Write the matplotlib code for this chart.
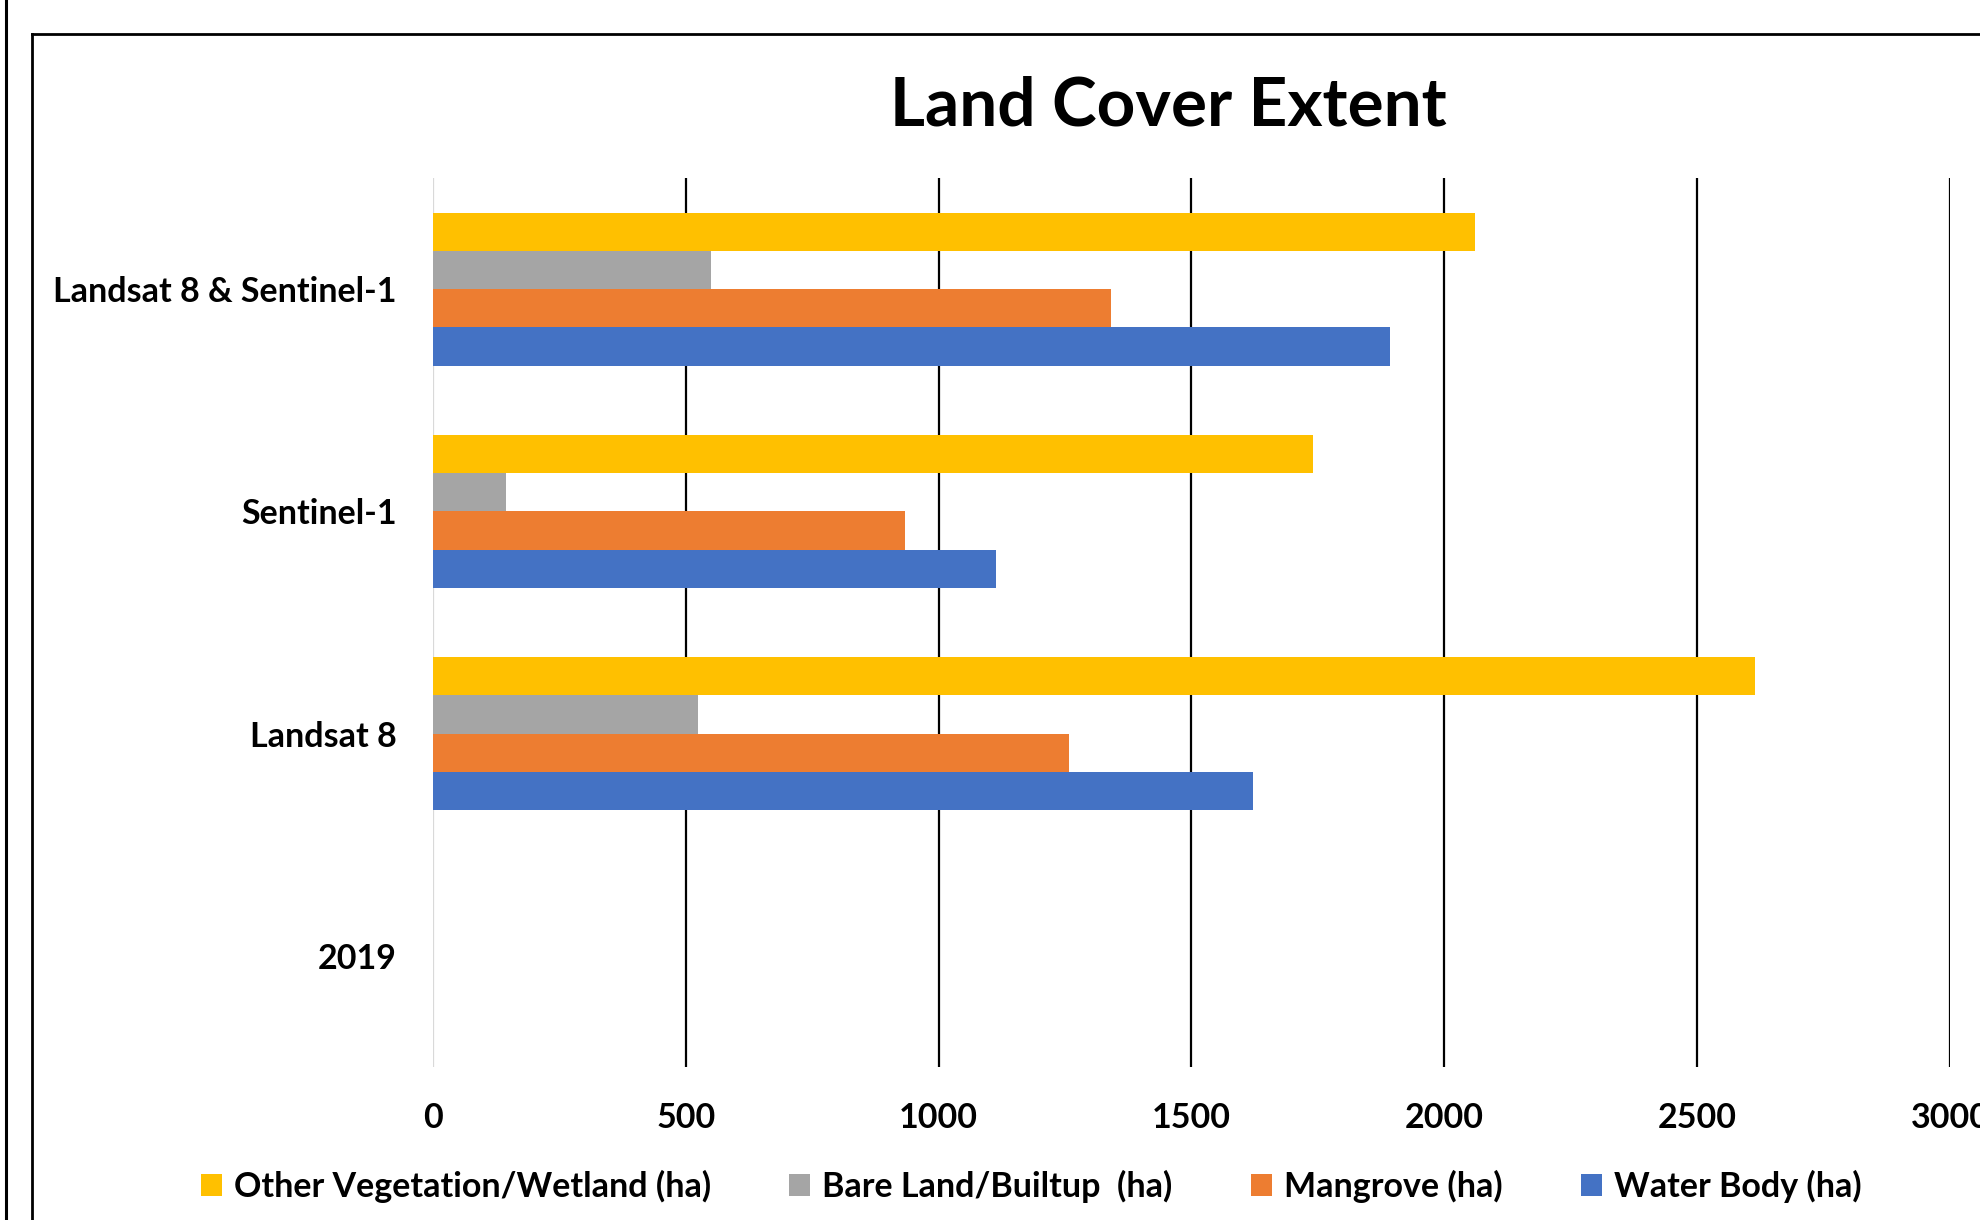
import matplotlib
matplotlib.use("Agg")
import matplotlib.pyplot as plt
import numpy as np
from matplotlib.patches import Patch
from matplotlib.lines import Line2D

categories = ["2019", "Landsat 8", "Sentinel-1", "Landsat 8 & Sentinel-1"]
series_names = ["Other Vegetation/Wetland (ha)", "Bare Land/Builtup  (ha)",
                "Mangrove (ha)", "Water Body (ha)"]
other_veg = [0, 2615, 1740, 2061]
bare_land = [0, 524, 144, 549]
mangrove = [0, 1258, 934, 1340]
water_body = [0, 1621, 1114, 1892]
colors = ["#FFC000", "#A5A5A5", "#ED7D31", "#4472C4"]
xticks = [0, 500, 1000, 1500, 2000, 2500, 3000]

plt.rcParams['font.family'] = ['Lato', 'DejaVu Sans']
plt.rcParams['font.weight'] = 'bold'

W, H = 1981, 1220
fig = plt.figure(figsize=(W / 100, H / 100), dpi=100)
fig.patch.set_facecolor("white")

ax = fig.add_axes([433 / W, 1 - 1067 / H, (1950 - 433) / W, (1067 - 178) / H])
y = np.arange(len(categories))
h = 0.172
vals = [other_veg, bare_land, mangrove, water_body]
offsets = [1.5 * h, 0.5 * h, -0.5 * h, -1.5 * h]
for v, off, c, name in zip(vals, offsets, colors, series_names):
    ax.barh(y + off, v, height=h, color=c, label=name, zorder=3)

ax.set_xlim(0, 3000)
ax.set_ylim(-0.5, len(categories) - 0.5)
ax.set_xticks(xticks)
ax.set_xticklabels([str(t) for t in xticks])
ax.set_yticks(y)
ax.set_yticklabels(categories)
for t in xticks:
    ax.axvline(t, color="#D9D9D9" if t == 0 else "black", lw=1.6, zorder=1)
for s in ax.spines.values():
    s.set_visible(False)
ax.tick_params(axis="both", length=0, labelsize=24.5)
ax.tick_params(axis="x", pad=25)
ax.tick_params(axis="y", pad=26)
for lab in ax.get_xticklabels() + ax.get_yticklabels():
    lab.set_fontweight("bold")

fig.text(1168 / W, 1 - 125 / H, "Land Cover Extent", ha="center", va="baseline",
         fontsize=48.5, fontweight="bold")

handles = [Patch(facecolor=c, edgecolor="none") for c in colors]
fig.legend(handles, series_names, loc="center", bbox_to_anchor=(1031 / W, 1 - 1186 / H),
           ncol=4, frameon=False, handlelength=0.62, handleheight=0.62,
           handletextpad=0.35, columnspacing=2.3, prop={"weight": "bold", "size": 24.5})

# chart frame
fig.add_artist(Line2D([6 / W, 6 / W], [0, 1], color="black", lw=2.2, transform=fig.transFigure))
fig.add_artist(Line2D([32 / W, 32 / W], [0, 1 - 34 / H], color="black", lw=2.0, transform=fig.transFigure))
fig.add_artist(Line2D([32 / W, 1], [1 - 34 / H, 1 - 34 / H], color="black", lw=2.0, transform=fig.transFigure))

fig.savefig("out.png", dpi=100)
